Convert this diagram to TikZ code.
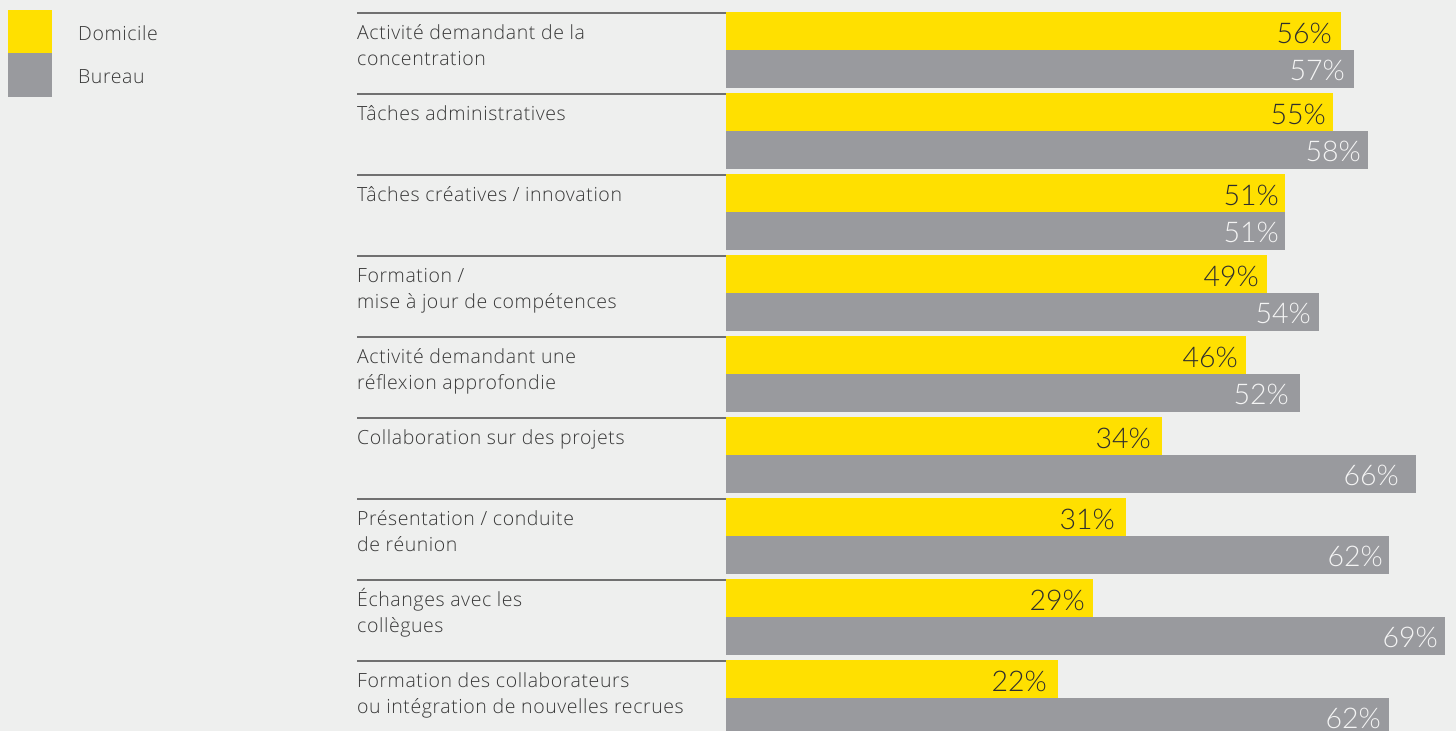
\documentclass[tikz,border=0pt]{standalone}
\usepackage{fontspec}
\IfFontExistsTF{Lato Light}{\setmainfont{Lato Light}}{\setmainfont{Lato}}
\IfFontExistsTF{Open Sans Light}{\newfontfamily\labfont[LetterSpace=3]{Open Sans Light}}{\newfontfamily\labfont[LetterSpace=3]{Open Sans}}
\definecolor{bgc}{HTML}{EEEFEE}
\definecolor{ylw}{HTML}{FFE000}
\definecolor{gry}{HTML}{999A9E}
\definecolor{sepc}{HTML}{707070}
\definecolor{txtc}{HTML}{383838}
\definecolor{pctdark}{HTML}{2E2E2E}
\definecolor{pctlight}{HTML}{F4F4F4}
\tikzset{
  lab/.style={inner sep=0pt, text=txtc, font=\labfont\fontsize{19.5}{23}\selectfont},
  pct/.style={inner sep=0pt, font=\fontsize{28.5}{32}\selectfont},
  sepline/.style={draw=sepc, line width=1.3pt},
  ybar/.style={fill=ylw, draw=none},
  gbar/.style={fill=gry, draw=none},
}
\begin{document}
\begin{tikzpicture}[x=1pt,y=-1pt]
\fill[bgc] (0,0) rectangle (1456,731);
\useasboundingbox (0,0) rectangle (1456,731);
% legend
\fill[ybar] (8,10) rectangle (52,53);
\fill[gbar] (8,53) rectangle (52,97);
\node[lab, anchor=base west] (legD) at (78,40.5) {Domicile};
\node[lab, anchor=base west] (legB) at (78,83) {Bureau};
% rows
\foreach \i/\ya/\ta/\pa/\yb/\tb/\pb/\la/\lb in {
 0/1341/1332/56/1354/1345/57/{Activité demandant de la}/{concentration},
 1/1333/1326/55/1368/1361/58/{Tâches administratives}/{},
 2/1285/1279/51/1285/1279/51/{Tâches créatives / innovation}/{},
 3/1267/1259/49/1319/1311/54/{Formation /}/{mise à jour de compétences},
 4/1246/1238/46/1300/1289/52/{Activité demandant une}/{réflexion approfondie},
 5/1162/1151/34/1416/1399/66/{Collaboration sur des projets}/{},
 6/1126/1115/31/1389/1383/62/{Présentation / conduite}/{de réunion},
 7/1093/1085/29/1445/1438/69/{Échanges avec les}/{collègues},
 8/1058/1047/22/1389/1381/62/{Formation des collaborateurs}/{ou intégration de nouvelles recrues}}{
  \pgfmathsetmacro\top{12+81*\i}
  \fill[ybar] (726,\top) rectangle (\ya,\top+38);
  \fill[gbar] (726,\top+38) rectangle (\yb,{min(\top+76,731)});
  \draw[sepline] (357,\top+1) -- (726,\top+1);
  \node[pct, text=pctdark, anchor=base east] (pa\i) at (\ta,\top+31) {\pa\%};
  \node[pct, text=pctlight, anchor=base east] (pb\i) at (\tb,\top+68.5) {\pb\%};
  \node[lab, anchor=base west] (la\i) at (357,\top+27) {\la};
  \node[lab, anchor=base west] (lb\i) at (357,\top+53) {\lb};
}
\end{tikzpicture}
\end{document}
